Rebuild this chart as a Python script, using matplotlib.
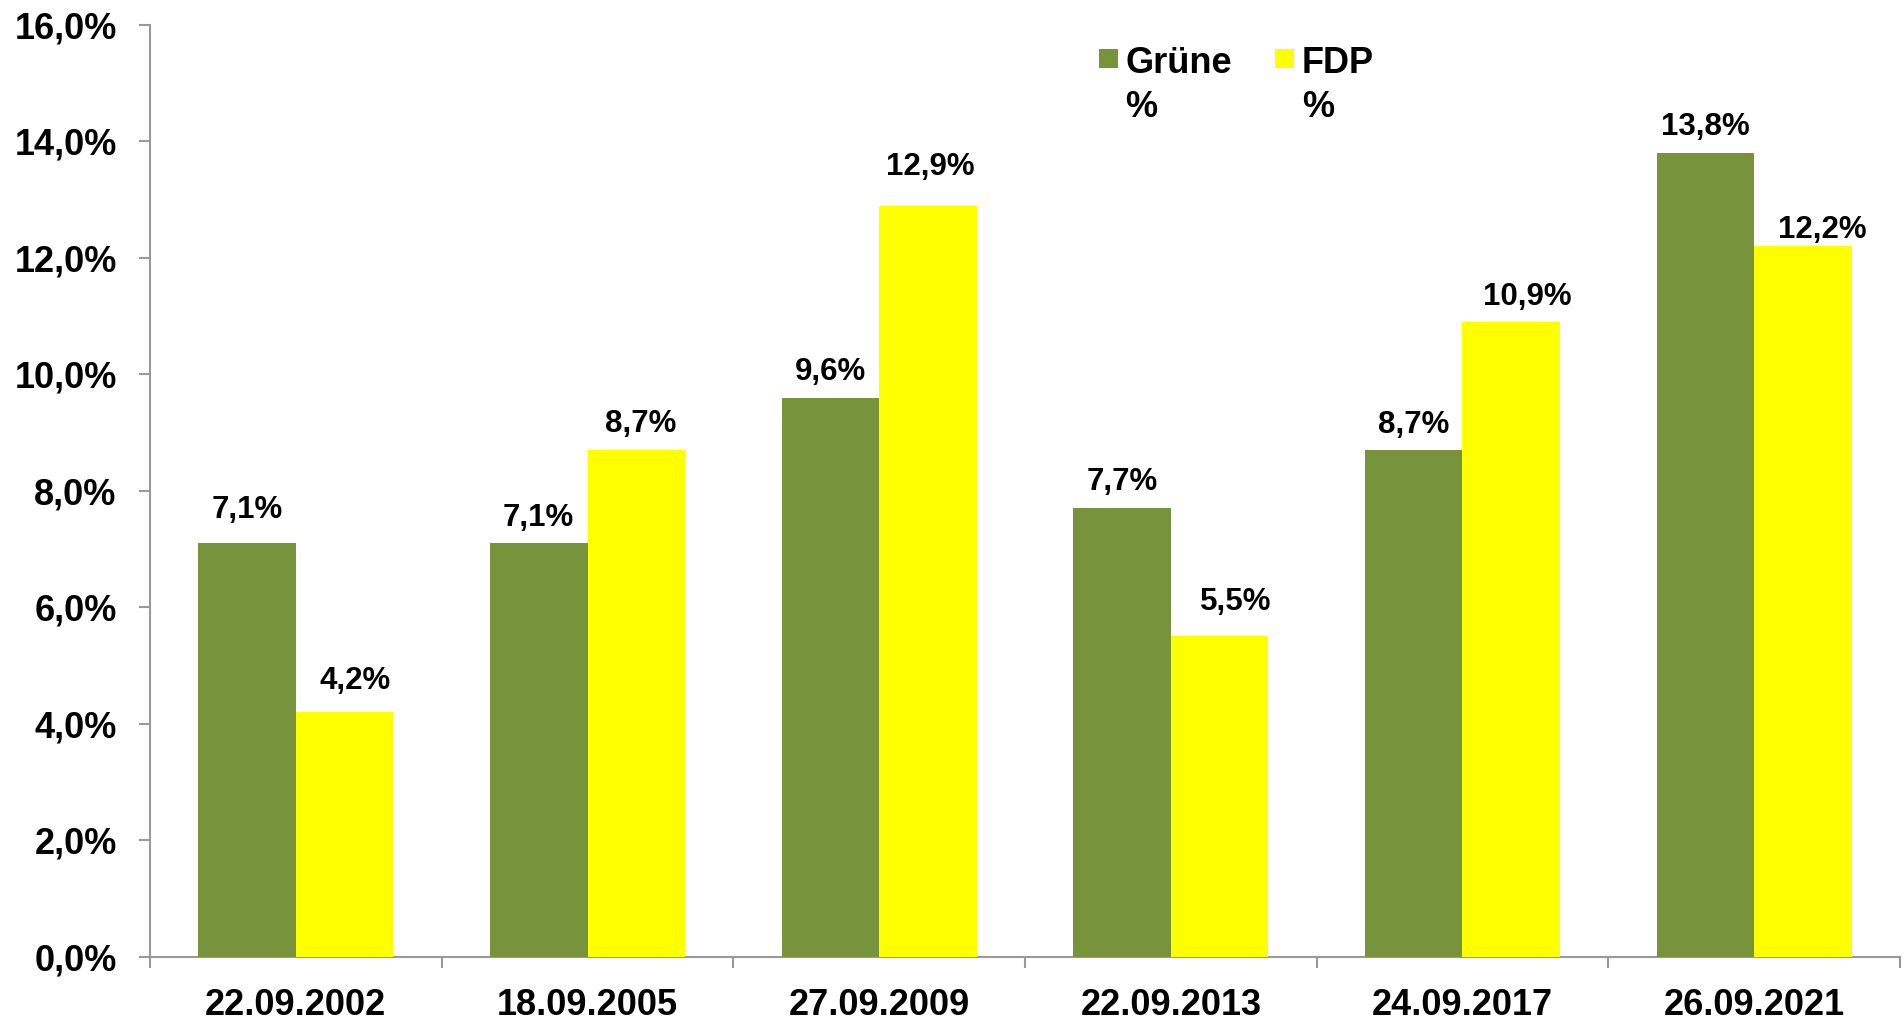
import matplotlib

matplotlib.use("Agg")

import matplotlib.pyplot as plt
import numpy as np
from matplotlib.ticker import FuncFormatter

plt.rcParams["font.family"] = ["Liberation Sans", "DejaVu Sans"]
plt.rcParams["font.weight"] = "bold"

# election dates and results (percent)
dates = ["22.09.2002", "18.09.2005", "27.09.2009", "22.09.2013", "24.09.2017", "26.09.2021"]
gruene = [7.1, 7.1, 9.6, 7.7, 8.7, 13.8]
fdp = [4.2, 8.7, 12.9, 5.5, 10.9, 12.2]
series_names = ["Grüne\n%", "FDP\n%"]

_GREEN = "#77933C"
_YELLOW = "#FFFF00"
_AXIS = "#999999"

# label nudges (points) as placed in the original
gruene_dx = [0, 0, 0, 0, 0, 0]
gruene_dy = [18, 12.2, 13, 13, 12.2, 13]
fdp_dx = [7.2, 2.9, 1.4, 11.5, 11.5, 13.7]
fdp_dy = [16.6, 13, 22.3, 18.7, 12.2, 5.8]


def pct_de(v, _pos=None):
    return f"{v:.1f}%".replace(".", ",")


fig = plt.figure(figsize=(19.04, 10.19), dpi=100)
fig.patch.set_facecolor("white")
ax = fig.add_axes([150 / 1904, 62.3 / 1019, 1750 / 1904, 931.7 / 1019])

x = np.arange(len(dates))
w = 0.3346
bars_g = ax.bar(x - w / 2, gruene, width=w, color=_GREEN, label=series_names[0], zorder=3)
bars_f = ax.bar(x + w / 2, fdp, width=w, color=_YELLOW, label=series_names[1], zorder=3)

for bar, v, dx, dy in zip(bars_g, gruene, gruene_dx, gruene_dy):
    ax.annotate(pct_de(v), (bar.get_x() + bar.get_width() / 2, v), xytext=(dx, dy),
                textcoords="offset points", ha="center", va="baseline",
                fontsize=22.5, fontweight="bold")
for bar, v, dx, dy in zip(bars_f, fdp, fdp_dx, fdp_dy):
    ax.annotate(pct_de(v), (bar.get_x() + bar.get_width() / 2, v), xytext=(dx, dy),
                textcoords="offset points", ha="center", va="baseline",
                fontsize=22.5, fontweight="bold")

ax.set_xlim(-0.5, len(dates) - 0.5)
ax.set_ylim(0, 16)
ax.set_yticks(np.arange(0, 16.1, 2))
ax.yaxis.set_major_formatter(FuncFormatter(pct_de))

ax.set_xticks(np.arange(-0.5, len(dates), 1.0))
ax.set_xticklabels([])
ax.set_xticks(x, minor=True)
ax.set_xticklabels(dates, minor=True)

ax.tick_params(axis="x", which="major", direction="out", length=8, width=1.5, color=_AXIS)
ax.tick_params(axis="x", which="minor", length=0, pad=22.2, labelsize=26)
ax.tick_params(axis="y", direction="out", length=8, width=1.5, color=_AXIS, pad=16, labelsize=26)

for side in ("top", "right"):
    ax.spines[side].set_visible(False)
for side in ("left", "bottom"):
    ax.spines[side].set_color(_AXIS)
    ax.spines[side].set_linewidth(1.5)

leg = ax.legend(
    loc="upper left",
    bbox_to_anchor=(1099 / 1904, 1 - 46.4 / 1019),
    bbox_transform=fig.transFigure,
    ncol=2,
    frameon=False,
    prop={"size": 26, "weight": "bold"},
    handlelength=0.53,
    handleheight=0.53,
    handletextpad=0.2,
    columnspacing=1.2,
    borderpad=0,
    borderaxespad=0,
)
for t in leg.get_texts():
    t.set_linespacing(1.32)
# put the colour square next to the first line of the wrapped label
for p in leg.get_patches():
    p.set_y(22.2)
    p.set_height(13.7)

fig.savefig("out.png", dpi=100, facecolor=fig.get_facecolor())
plt.close(fig)
